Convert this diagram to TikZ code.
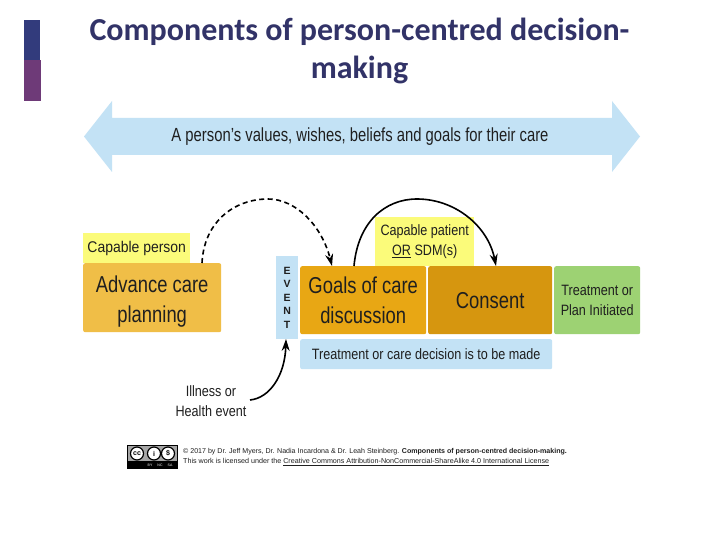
\documentclass[tikz,border=0pt]{standalone}
\usepackage{fontspec}
\setmainfont{Liberation Sans}
\newfontfamily\titlefont{Carlito}
\newfontfamily\narA[FakeStretch=0.78]{Liberation Sans}
\newfontfamily\narB[FakeStretch=0.80]{Liberation Sans}
\newfontfamily\narC[FakeStretch=0.84]{Liberation Sans}
\newfontfamily\narD[FakeStretch=0.90]{Liberation Sans}
\usetikzlibrary{arrows.meta}
\definecolor{navy}{HTML}{323368}
\definecolor{barblue}{HTML}{323B7C}
\definecolor{barpurple}{HTML}{6E3A78}
\definecolor{skyb}{HTML}{C3E2F5}
\definecolor{ylw}{HTML}{FBFB7A}
\definecolor{acpc}{HTML}{F0BE47}
\definecolor{goalc}{HTML}{E8A714}
\definecolor{consc}{HTML}{D6960F}
\definecolor{grn}{HTML}{9DD273}
\tikzset{
 box/.style={rounded corners=2pt,inner sep=0pt,align=center,anchor=north west,text=black!88},
 lbl/.style={inner sep=0pt,align=center,text=black!88},
 conn/.style={line width=1.6pt,black,-{Stealth[length=12pt,width=8pt]}},
 bigt/.style={font=\narB\fontsize{23}{30}\selectfont},
 midt/.style={font=\narC\fontsize{15}{20}\selectfont},
}
\begin{document}
\begin{tikzpicture}[x=1pt,y=-1pt]
\useasboundingbox (0,0) rectangle (720,540);
\fill[white] (0,0) rectangle (720,540);
% side bars
\fill[barblue] (24,20) rectangle (40,60);
\fill[barpurple] (24,60) rectangle (41,101);
% title
\node[lbl,text=navy,font=\titlefont\bfseries\fontsize{32}{38.5}\selectfont] (title) at (359.5,51) {Components of person-centred decision-\\making};
% big arrow
\fill[skyb] (84,136.5) -- (112,101) -- (112,118) -- (612,118) -- (612,101) -- (640,136.5) -- (612,172) -- (612,155) -- (112,155) -- (112,172) -- cycle;
\node[lbl,font=\narA\fontsize{19}{22}\selectfont] (values) at (360,137) {A person’s values, wishes, beliefs and goals for their care};
% boxes
\node[box,fill=ylw,rounded corners=0pt,minimum width=107pt,minimum height=30pt,font=\narD\fontsize{15.5}{20}\selectfont] (capperson) at (83,233) {Capable person};
\node[box,fill=ylw,rounded corners=0pt,minimum width=99pt,minimum height=49pt,midt] (cappat) at (375,217) {Capable patient\\\underline{OR} SDM(s)};
\node[box,fill=acpc,minimum width=138pt,minimum height=69pt,bigt] (acp) at (83,263) {\rule{0pt}{24pt}Advance care\\planning};
\node[box,fill=skyb,rounded corners=0pt,minimum width=22pt,minimum height=83pt,font=\bfseries\fontsize{10.5}{13.5}\selectfont] (event) at (276,256) {E\\V\\E\\N\\T};
\node[box,fill=goalc,minimum width=126pt,minimum height=68pt,bigt] (goals) at (300,266) {Goals of care\\discussion};
\node[box,fill=consc,minimum width=124pt,minimum height=68pt,bigt] (consent) at (428,266) {Consent};
\node[box,fill=grn,minimum width=86pt,minimum height=68pt,midt] (treat) at (554,266) {Treatment or\\Plan Initiated};
\node[box,fill=skyb,minimum width=252pt,minimum height=30pt,midt] (decision) at (300,339) {Treatment or care decision is to be made};
\node[lbl,midt] (illness) at (211,401) {Illness or\\Health event};
% connectors
\coordinate (a1) at (202,263);
\coordinate (a2) at (332,266);
\coordinate (b1) at (354,266);
\coordinate (b2) at (496,266);
\coordinate (c1) at (250,400);
\coordinate (c2) at (286,339);
\draw[conn,dash pattern=on 5pt off 3.5pt] (a1) .. controls (204,222) and (234,199) .. (268,199) .. controls (296,199) and (322,226) .. (a2);
\draw[conn] (b1) .. controls (358,222) and (385,199) .. (417,199) .. controls (455,199) and (488,226) .. (b2);
\draw[conn] (c1) .. controls (270,398) and (285,375) .. (c2);
% licence badge
\fill[black] (127,445) rectangle (178,469);
\fill[black!35] (128,446) rectangle (177,461);
\foreach \cx in {137,154,168}{\fill[white,draw=black,line width=1.2pt] (\cx,453.5) circle (6.5);}
\node[lbl,text=black,font=\bfseries\fontsize{7}{8}\selectfont] (cc) at (137,453.5) {cc};
\node[lbl,text=black,font=\bfseries\fontsize{7}{8}\selectfont] (by) at (154,453.5) {i};
\node[lbl,text=black,font=\bfseries\fontsize{7}{8}\selectfont] (nc) at (168,453.5) {\$};
\node[lbl,text=white,font=\fontsize{3.5}{4}\selectfont] (byt) at (150,465) {BY};
\node[lbl,text=white,font=\fontsize{3.5}{4}\selectfont] (nct) at (160,465) {NC};
\node[lbl,text=white,font=\fontsize{3.5}{4}\selectfont] (sat) at (170,465) {SA};
% licence text
\node[lbl,anchor=west,font=\fontsize{7.07}{8}\selectfont] (lic1) at (183,451.5) {© 2017 by Dr. Jeff Myers, Dr. Nadia Incardona \& Dr. Leah Steinberg. \textbf{Components of person-centred decision-making.}};
\node[lbl,anchor=west,font=\fontsize{7.15}{8}\selectfont] (lic2) at (183,462) {This work is licensed under the \underline{Creative Commons Attribution-NonCommercial-ShareAlike 4.0 International License}};
\end{tikzpicture}
\end{document}
